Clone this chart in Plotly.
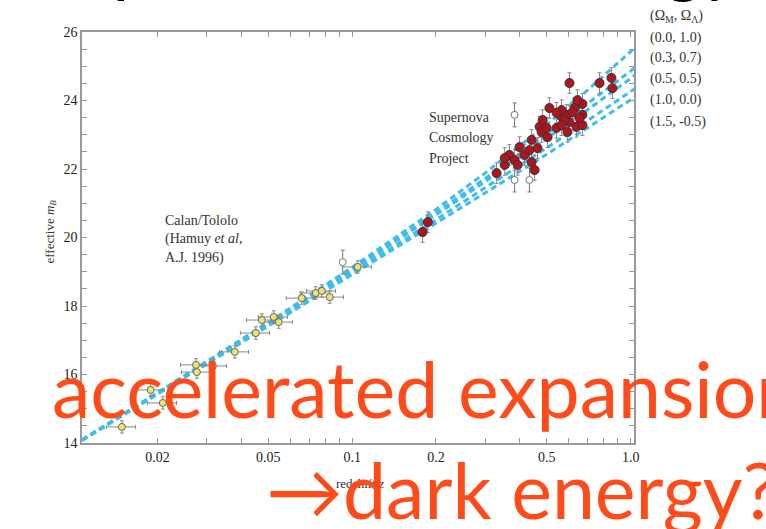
import plotly.graph_objects as go

# ---- data ----
z_model = [0.01, 0.02, 0.05, 0.1, 0.2, 0.3, 0.5, 0.7, 1.0, 1.1]
cosmo_labels = ["(0.0, 1.0)", "(0.3, 0.7)", "(0.5, 0.5)", "(1.0, 0.0)", "(1.5, -0.5)"]
m_00_10 = [13.94, 15.47, 17.52, 19.13, 20.82, 21.88, 23.30, 24.30, 25.43, 25.74]
m_03_07 = [13.94, 15.46, 17.50, 19.08, 20.72, 21.72, 23.02, 23.91, 24.86, 25.15]
m_05_05 = [13.93, 15.45, 17.48, 19.05, 20.66, 21.63, 22.89, 23.73, 24.64, 24.93]
m_10_00 = [13.93, 15.44, 17.44, 18.97, 20.52, 21.44, 22.62, 23.41, 24.26, 24.49]
m_15_m05 = [13.92, 15.42, 17.41, 18.90, 20.41, 21.30, 22.43, 23.19, 24.01, 24.24]

# Calan/Tololo supernovae
ct_z = [0.0149, 0.0209, 0.0189, 0.0275, 0.0277, 0.0316, 0.0379, 0.0451, 0.0474,
        0.0523, 0.0545, 0.0659, 0.0740, 0.0778, 0.0831, 0.1047]
ct_m = [14.47, 15.17, 15.55, 16.28, 16.07, 16.25, 16.66, 17.21, 17.59,
        17.68, 17.53, 18.23, 18.38, 18.44, 18.26, 19.14]

# Supernova Cosmology Project
scp_z = [0.187, 0.179, 0.330, 0.367, 0.383, 0.399, 0.416, 0.433, 0.441, 0.463,
         0.441, 0.471, 0.483, 0.479, 0.503, 0.511, 0.499, 0.542, 0.565, 0.588,
         0.603, 0.593, 0.629, 0.639, 0.671, 0.671, 0.671, 0.565, 0.603, 0.773,
         0.853, 0.860, 0.644, 0.618, 0.579, 0.542, 0.565, 0.655, 0.393, 0.353,
         0.452, 0.353]
scp_m = [20.45, 20.16, 21.88, 22.41, 22.26, 22.64, 22.41, 22.55, 22.20, 22.61,
         22.85, 23.23, 23.43, 23.08, 22.93, 23.78, 23.20, 23.20, 23.52, 23.58,
         23.37, 23.08, 23.78, 23.23, 23.90, 23.58, 23.28, 23.72, 24.51, 24.51,
         24.66, 24.36, 24.01, 23.66, 23.43, 23.64, 23.28, 23.49, 22.12, 22.12,
         21.97, 22.32]

# excluded / outlier points (open)
ex_z = [0.0925, 0.383, 0.383, 0.433]
ex_m = [19.28, 23.58, 21.68, 21.68]

x_tickvals = [0.02, 0.03, 0.04, 0.05, 0.06, 0.07, 0.08, 0.09, 0.1,
              0.2, 0.3, 0.4, 0.5, 0.6, 0.7, 0.8, 0.9, 1.0]
x_ticktext = ["0.02", "", "", "0.05", "", "", "", "", "0.1",
              "0.2", "", "", "0.5", "", "", "", "", "1.0"]
y_tickvals = [14 + 0.5 * i for i in range(25)]
y_ticktext = [str(int(v)) if v % 2 == 0 else "" for v in y_tickvals]

# ---- figure ----
fig = go.Figure()
cyan = "#3CBDEB"
for ms in [m_00_10, m_03_07, m_05_05, m_10_00, m_15_m05]:
    fig.add_trace(go.Scatter(x=z_model, y=ms, mode="lines",
                             line=dict(color=cyan, width=3, dash="6px,4px"),
                             hoverinfo="skip"))

fig.add_trace(go.Scatter(x=ex_z, y=ex_m, mode="markers",
                         marker=dict(size=7, color="white", line=dict(color="#777", width=1)),
                         error_y=dict(type="constant", value=0.35, color="#777", thickness=1, width=2)))
fig.add_trace(go.Scatter(x=ct_z, y=ct_m, mode="markers",
                         marker=dict(size=7, color="#EFE36C", line=dict(color="#666", width=1)),
                         error_y=dict(type="constant", value=0.18, color="#888", thickness=1, width=2),
                         error_x=dict(type="percent", value=12, color="#888", thickness=1, width=2)))
fig.add_trace(go.Scatter(x=scp_z, y=scp_m, mode="markers",
                         marker=dict(size=9, color="#B0141E", line=dict(color="#333", width=1)),
                         error_y=dict(type="constant", value=0.3, color="#888", thickness=1, width=2)))

serif = "Liberation Serif"
ann = []
for i, t in enumerate(["Calan/Tololo", "(Hamuy <i>et al</i>,", "A.J. 1996)"]):
    ann.append(dict(x=-1.68, y=20.51 - i * 0.56, xref="x", yref="y", text=t, showarrow=False,
                    xanchor="left", yanchor="middle", font=dict(family=serif, size=14, color="#333")))
for i, t in enumerate(["Supernova", "Cosmology", "Project"]):
    ann.append(dict(x=-0.73, y=23.51 - i * 0.6, xref="x", yref="y", text=t, showarrow=False,
                    xanchor="left", yanchor="middle", font=dict(family=serif, size=14, color="#333")))
legend_lines = ["(Ω<sub>M</sub>, Ω<sub>Λ</sub>)"] + cosmo_labels
for i, t in enumerate(legend_lines):
    py = [17, 38, 58, 79, 100, 122][i]
    ann.append(dict(x=(648 - 82) / 552, y=(443 - py) / 411, xref="paper", yref="paper", text=t,
                    showarrow=False, xanchor="left", yanchor="middle",
                    font=dict(family=serif, size=14, color="#333")))
ann.append(dict(x=(40 - 82) / 552, y=(443 - 232) / 411, xref="paper", yref="paper",
                text="effective <i>m<sub>B</sub></i>", textangle=-90, showarrow=False,
                font=dict(family=serif, size=13, color="#333")))
ann.append(dict(x=(360 - 82) / 552, y=(443 - 493) / 411, xref="paper", yref="paper",
                text="redshift <i>z</i>", showarrow=False,
                font=dict(family=serif, size=13, color="#333")))
# slide overlay texts
red = "#FF4A1A"
ann.append(dict(x=(32 - 82) / 552, y=(443 + 38.5) / 411, xref="paper", yref="paper",
                text="Supernova Cosmology", showarrow=False, xanchor="left", yanchor="middle",
                font=dict(family="Lato", size=72, color="black")))
ann.append(dict(x=(50 - 82) / 552, y=(443 - 388) / 411, xref="paper", yref="paper",
                text="accelerated expansion", showarrow=False, xanchor="left", yanchor="middle",
                font=dict(family="Lato", size=77, color=red)))
ann.append(dict(x=(264 - 82) / 552, y=(443 - 489) / 411, xref="paper", yref="paper",
                text="→dark energy?", showarrow=False, xanchor="left", yanchor="middle",
                font=dict(family="Lato", size=77, color=red)))

axis_common = dict(showline=True, linecolor="#999", linewidth=1.5, mirror="ticks",
                   ticks="inside", ticklen=5, tickcolor="#999", tickwidth=1,
                   showgrid=False, zeroline=False,
                   tickfont=dict(family=serif, size=14, color="#222"))
fig.update_layout(
    width=766, height=529, margin=dict(l=82, r=132, t=32, b=86),
    paper_bgcolor="white", plot_bgcolor="white", showlegend=False,
    xaxis=dict(type="log", range=[-1.97, 0.012], tickmode="array",
               tickvals=x_tickvals, ticktext=x_ticktext, **axis_common),
    yaxis=dict(range=[14, 26], tickmode="array", tickvals=y_tickvals,
               ticktext=y_ticktext, **axis_common),
    annotations=ann,
)
fig.write_html("out.html")
